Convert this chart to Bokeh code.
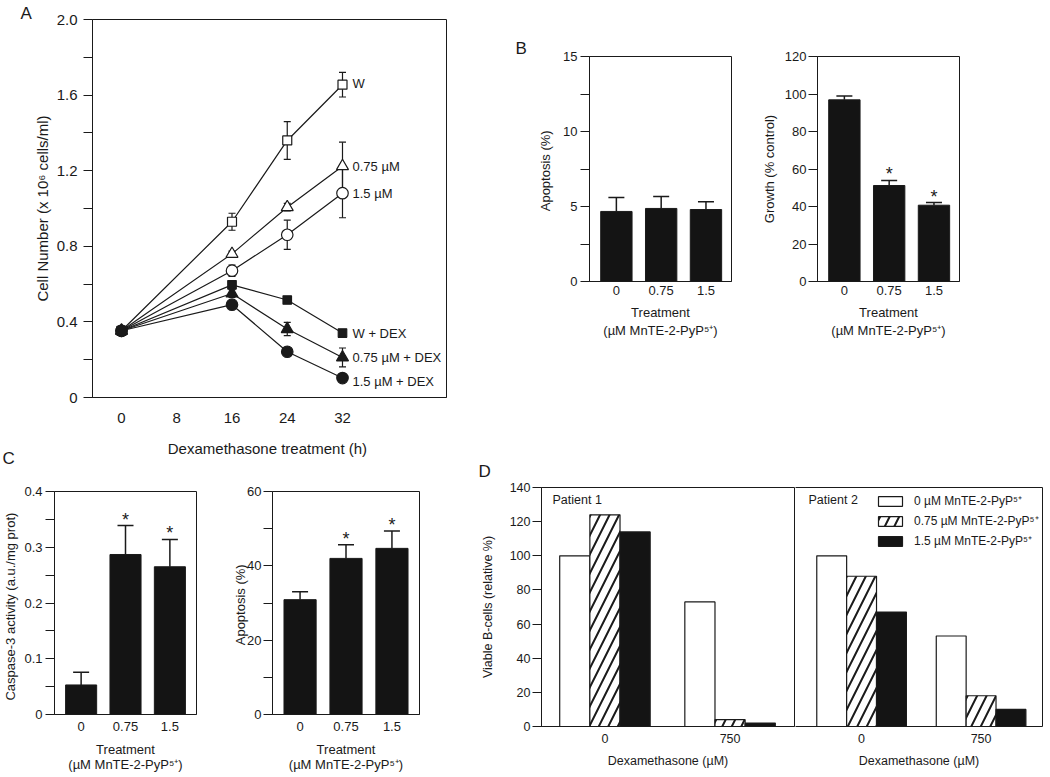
from bokeh.plotting import figure
from bokeh.models import (ColumnDataSource, Range1d, FixedTicker, Whisker, TeeHead,
                          Label, Legend, LegendItem, Title, LinearAxis)
from bokeh.layouts import row, column
from bokeh.embed import file_html
from bokeh.resources import INLINE

FONT = "Liberation Sans"
INK = "#1a1a1a"
BAR = "#141414"

# ---------------- data ----------------
# Panel A: cell number (x 10^6 cells/ml) vs dexamethasone treatment time (h)
hours = [0, 16, 24, 32]
a_labels = ["W", "0.75 µM", "1.5 µM", "W + DEX", "0.75 µM + DEX", "1.5 µM + DEX"]
w_mean = [0.353, 0.93, 1.36, 1.655]
w_err = [0.0, 0.045, 0.10, 0.065]
m075_mean = [0.353, 0.76, 1.007, 1.224]
m075_err = [0.0, 0.015, 0.02, 0.127]
m15_mean = [0.353, 0.671, 0.861, 1.081]
m15_err = [0.0, 0.03, 0.077, 0.13]
wdex_mean = [0.353, 0.596, 0.516, 0.341]
wdex_err = [0.0, 0.02, 0.015, 0.015]
m075dex_mean = [0.353, 0.55, 0.362, 0.212]
m075dex_err = [0.0, 0.02, 0.035, 0.05]
m15dex_mean = [0.353, 0.491, 0.242, 0.103]
m15dex_err = [0.0, 0.015, 0.015, 0.015]
a_xticks = [0, 8, 16, 24, 32]
a_yticks = [0, 0.4, 0.8, 1.2, 1.6, 2.0]
a_yminor = [0.2, 0.6, 1.0, 1.4, 1.8]

# Panels B and C: treatment (µM MnTE-2-PyP5+)
treatments = ["0", "0.75", "1.5"]
b_apop = [4.67, 4.87, 4.80]
b_apop_err = [0.93, 0.80, 0.51]
b_apop_sig = [False, False, False]
b_growth = [96.9, 51.2, 40.7]
b_growth_err = [2.0, 2.7, 1.4]
b_growth_sig = [False, True, True]
c_casp = [0.053, 0.287, 0.265]
c_casp_err = [0.023, 0.052, 0.049]
c_casp_sig = [False, True, True]
c_apop = [30.9, 42.0, 44.7]
c_apop_err = [2.1, 3.7, 4.7]
c_apop_sig = [False, True, True]
b_apop_ticks = [0, 5, 10, 15]
b_apop_minor = [2.5, 7.5, 12.5]
b_growth_ticks = [0, 20, 40, 60, 80, 100, 120]
c_casp_ticks = [0, 0.1, 0.2, 0.3, 0.4]
c_casp_minor = [0.05, 0.15, 0.25, 0.35]
c_apop_ticks = [0, 20, 40, 60]
c_apop_minor = [10, 30, 50]

# Panel D: viable B-cells (relative %), dexamethasone 0 / 750 µM
patients = ["Patient 1", "Patient 2"]
dex_doses = ["0", "750"]
d_series = ["0 µM MnTE-2-PyP⁵⁺", "0.75 µM MnTE-2-PyP⁵⁺", "1.5 µM MnTE-2-PyP⁵⁺"]
p1_mn0 = [100, 73]
p1_mn075 = [124, 4]
p1_mn15 = [114, 2]
p2_mn0 = [100, 53]
p2_mn075 = [88, 18]
p2_mn15 = [67, 10]
d_yticks = [0, 20, 40, 60, 80, 100, 120, 140]

TREAT_LABEL = "Treatment\n(µM MnTE-2-PyP⁵⁺)"


# ---------------- helpers ----------------
def base_fig(w, h, xr, yr, ml, mr, mt, mb, **kw):
    p = figure(width=w, height=h,
               x_range=xr if not isinstance(xr, tuple) else Range1d(*xr),
               y_range=yr if not isinstance(yr, tuple) else Range1d(*yr),
               output_backend="svg", toolbar_location=None,
               min_border_left=ml, min_border_right=mr,
               min_border_top=mt, min_border_bottom=mb, **kw)
    p.grid.visible = False
    p.outline_line_color = INK
    p.outline_line_alpha = 1.0
    p.outline_line_width = 1
    p.background_fill_color = "white"
    p.border_fill_color = "white"
    p.title.visible = False
    return p


def style_x(ax, fs, xstand, lh=1.25):
    ax.axis_line_color = INK
    ax.axis_line_width = 1
    ax.major_label_text_font = FONT
    ax.major_label_text_font_size = fs
    ax.major_label_text_color = INK
    ax.axis_label_text_font = FONT
    ax.axis_label_text_font_size = fs
    ax.axis_label_text_font_style = "normal"
    ax.axis_label_text_color = INK
    ax.axis_label_text_line_height = lh
    ax.major_tick_line_color = None
    ax.minor_tick_line_color = None
    ax.major_tick_out = 0
    ax.major_tick_in = 0
    ax.minor_tick_out = 0
    ax.minor_tick_in = 0
    ax.major_label_standoff = xstand


def style_y(ax, fs, y_ticks, y_minor, ylab, ystand, ylabstand):
    ax.axis_line_color = INK
    ax.axis_line_width = 1
    ax.major_label_text_font = FONT
    ax.major_label_text_font_size = fs
    ax.major_label_text_color = INK
    ax.axis_label_text_font = FONT
    ax.axis_label_text_font_size = fs
    ax.axis_label_text_font_style = "normal"
    ax.axis_label_text_color = INK
    ax.ticker = FixedTicker(ticks=y_ticks, minor_ticks=y_minor)
    ax.major_tick_out = 9
    ax.major_tick_in = 0
    ax.minor_tick_out = 9
    ax.minor_tick_in = 0
    ax.major_tick_line_color = INK
    ax.minor_tick_line_color = INK
    ax.major_label_standoff = ystand
    ax.axis_label = ylab
    ax.axis_label_standoff = ylabstand


def add_text(p, x, y, text, dx=0, dy=0, size="13px", align="left",
             baseline="middle"):
    p.add_layout(Label(x=x, y=y, x_offset=dx, y_offset=dy, text=text,
                       text_font=FONT, text_font_size=size, text_color=INK,
                       text_align=align, text_baseline=baseline))


def panel_letter(p, letter, offset, standoff, side="above", valign="bottom"):
    t = Title(text=letter, align="left", offset=offset, standoff=standoff,
              vertical_align=valign, text_font=FONT, text_font_size="17px",
              text_font_style="normal", text_color=INK)
    if side == "above":
        p.title = t
    else:
        p.add_layout(t, side)


def bar_panel(w, h, xr, yr, ml, mr, mt, mb, vals, errs, sig, y_ticks, y_minor,
              ylab, ystand, ylabstand, xstand, tstand, lh, cap=16):
    p = base_fig(w, h, xr, yr, ml, mr, mt, mb)
    xa = p.below[0]
    style_x(xa, "13px", xstand, lh)
    style_y(p.left[0], "13px", y_ticks, y_minor, ylab, ystand, ylabstand)
    xs = [i + 1 for i in range(len(treatments))]
    xa.ticker = FixedTicker(ticks=xs)
    xa.major_label_overrides = {x: t for x, t in zip(xs, treatments)}
    xa.axis_label = TREAT_LABEL
    xa.axis_label_standoff = tstand
    upper = [v + e for v, e in zip(vals, errs)]
    src = ColumnDataSource(dict(x=xs, top=vals, upper=upper))
    p.add_layout(Whisker(source=src, base="x", lower="top", upper="upper",
                         dimension="height", line_color=INK, line_width=1.5,
                         upper_head=TeeHead(size=cap, line_color=INK, line_width=1.5),
                         lower_head=None, level="underlay"))
    p.vbar(x="x", top="top", width=0.7, source=src, fill_color=BAR,
           line_color=INK, line_width=1)
    for x, u, s in zip(xs, upper, sig):
        if s:
            add_text(p, x, u, "*", dy=6, size="18px", align="center",
                     baseline="alphabetic")
    return p


# ---------------- Panel A ----------------
pA = base_fig(470, 468, (-4.2, 47.06), (0, 2.0), 92, 24, 19, 71)
style_x(pA.below[0], "15px", 15)
style_y(pA.left[0], "15px", a_yticks, a_yminor, "Cell Number (x 10⁶ cells/ml)", 6, 3)
pA.below[0].ticker = FixedTicker(ticks=a_xticks)
pA.below[0].axis_label = "Dexamethasone treatment  (h)"
pA.below[0].axis_label_standoff = 14
pA.left[0].major_label_overrides = {0: "0", 2.0: "2.0"}

a_means = [w_mean, m075_mean, m15_mean, wdex_mean, m075dex_mean, m15dex_mean]
a_errs = [w_err, m075_err, m15_err, wdex_err, m075dex_err, m15dex_err]
a_markers = ["square", "triangle", "circle", "square", "triangle", "circle"]
a_fills = ["white", "white", "white", INK, INK, INK]
a_sizes = [9, 12, 11.5, 8.5, 12, 11.5]
a_label_dy = [1, 0, 0, 0, 0, -3]

for mean in a_means:
    pA.line(hours, mean, line_color=INK, line_width=1.2)
for mean, err in zip(a_means, a_errs):
    src = ColumnDataSource(dict(x=hours,
                                upper=[m + e for m, e in zip(mean, err)],
                                lower=[m - e for m, e in zip(mean, err)]))
    pA.add_layout(Whisker(source=src, base="x", upper="upper", lower="lower",
                          dimension="height", line_color=INK, line_width=1.2,
                          upper_head=TeeHead(size=7, line_color=INK, line_width=1.2),
                          lower_head=TeeHead(size=7, line_color=INK, line_width=1.2),
                          level="underlay"))
for mean, mk, fc, sz in zip(a_means, a_markers, a_fills, a_sizes):
    pA.scatter(hours, mean, marker=mk, size=sz, fill_color=fc,
               line_color=INK, line_width=1.2)
for mean, lab, dy in zip(a_means, a_labels, a_label_dy):
    add_text(pA, hours[-1], mean[-1], lab, dx=10, dy=dy, size="13px")

panel_letter(pA, "A", -72, -6)
pA.title.visible = True
panel_letter(pA, "C", -90, -21, side="below", valign="top")

# ---------------- Panel B ----------------
pB1 = bar_panel(275, 440, (0.4, 3.57), (0, 15), 119, 14, 56, 159,
                b_apop, b_apop_err, b_apop_sig, b_apop_ticks, b_apop_minor,
                "Apoptosis  (%)", 3, 7, 4, 7, 1.25)
pB2 = bar_panel(304, 440, (0.4, 3.57), (0, 120), 72, 90, 56, 159,
                b_growth, b_growth_err, b_growth_sig, b_growth_ticks, [],
                "Growth (% control)", 2, 5, 4, 7, 1.25)
panel_letter(pB1, "B", -74, -3)
pB1.title.visible = True

# ---------------- Panel C ----------------
pC1 = bar_panel(220, 308, (0.4, 3.6), (0, 0.4), 53, 24, 23, 62,
                c_casp, c_casp_err, c_casp_sig, c_casp_ticks, c_casp_minor,
                "Caspase-3  activity  (a.u./mg prot)", 3, 3, 7, 8, 1.05)
pC1.left[0].major_label_overrides = {0: "0"}
pC2 = bar_panel(250, 308, (0.4, 3.6), (0, 60), 52, 51, 23, 62,
                c_apop, c_apop_err, c_apop_sig, c_apop_ticks, c_apop_minor,
                "Apoptosis  (%)", 2, -4, 7, 8, 1.05)

# ---------------- Panel D ----------------
BW1 = 0.241
BW2 = 0.25
yD = Range1d(0, 140)
pD1 = base_fig(325, 336, (-0.507, 1.515), yD, 71, 1, 47, 50)
pD2 = base_fig(254, 336, (-0.553, 1.514), yD, 0, 7, 47, 50, y_axis_location=None)
style_y(pD1.left[0], "12.5px", d_yticks, [], "Viable B-cells (relative %)", 2, 12)

d_fills = ["white", "white", BAR]
d_hatch = [None, "/", None]
items = []
for p, vals_list, bw in ((pD1, [p1_mn0, p1_mn075, p1_mn15], BW1),
                         (pD2, [p2_mn0, p2_mn075, p2_mn15], BW2)):
    xa = p.below[0]
    style_x(xa, "12.5px", 7)
    gx = list(range(len(dex_doses)))
    xa.ticker = FixedTicker(ticks=gx)
    xa.major_label_overrides = {g: d for g, d in zip(gx, dex_doses)}
    xa.axis_label = "Dexamethasone (µM)"
    xa.axis_label_standoff = 8
    for k, (vals, fc, hp) in enumerate(zip(vals_list, d_fills, d_hatch)):
        xs = [g + (k - 1) * bw for g in gx]
        r = p.vbar(x=xs, top=vals, width=bw, fill_color=fc, line_color=INK,
                   line_width=1.2, hatch_pattern=hp, hatch_color=INK,
                   hatch_weight=2, hatch_scale=19)
        if p is pD2:
            items.append(LegendItem(label=d_series[k], renderers=[r]))

# borders of the second patient box (its left side is the first box's frame)
pD2.outline_line_color = None
for side in ("above", "right"):
    ax = LinearAxis(ticker=FixedTicker(ticks=[]), axis_line_color=INK,
                    major_tick_line_color=None, minor_tick_line_color=None,
                    major_tick_out=0, minor_tick_out=0, major_tick_in=0,
                    minor_tick_in=0, major_label_standoff=0)
    pD2.add_layout(ax, side)

add_text(pD1, -0.507, 140, patients[0], dx=11, dy=-12.6, size="12.5px")
add_text(pD2, -0.553, 140, patients[1], dx=13, dy=-12.6, size="12.5px")
panel_letter(pD1, "D", -63, 13)
pD1.title.visible = True

legend = Legend(items=items, location=(80, 177), border_line_color=None,
                background_fill_alpha=0, padding=0, margin=0, spacing=3,
                glyph_width=30, glyph_height=12, label_standoff=9,
                label_text_font=FONT, label_text_font_size="12px",
                label_text_color=INK, label_height=12)
pD2.add_layout(legend)

# ---------------- layout ----------------
left = column(pA, row(pC1, pC2))
right = column(row(pB1, pB2), row(pD1, pD2))
layout = row(left, right)

open("out.html", "w").write(file_html(layout, INLINE))
